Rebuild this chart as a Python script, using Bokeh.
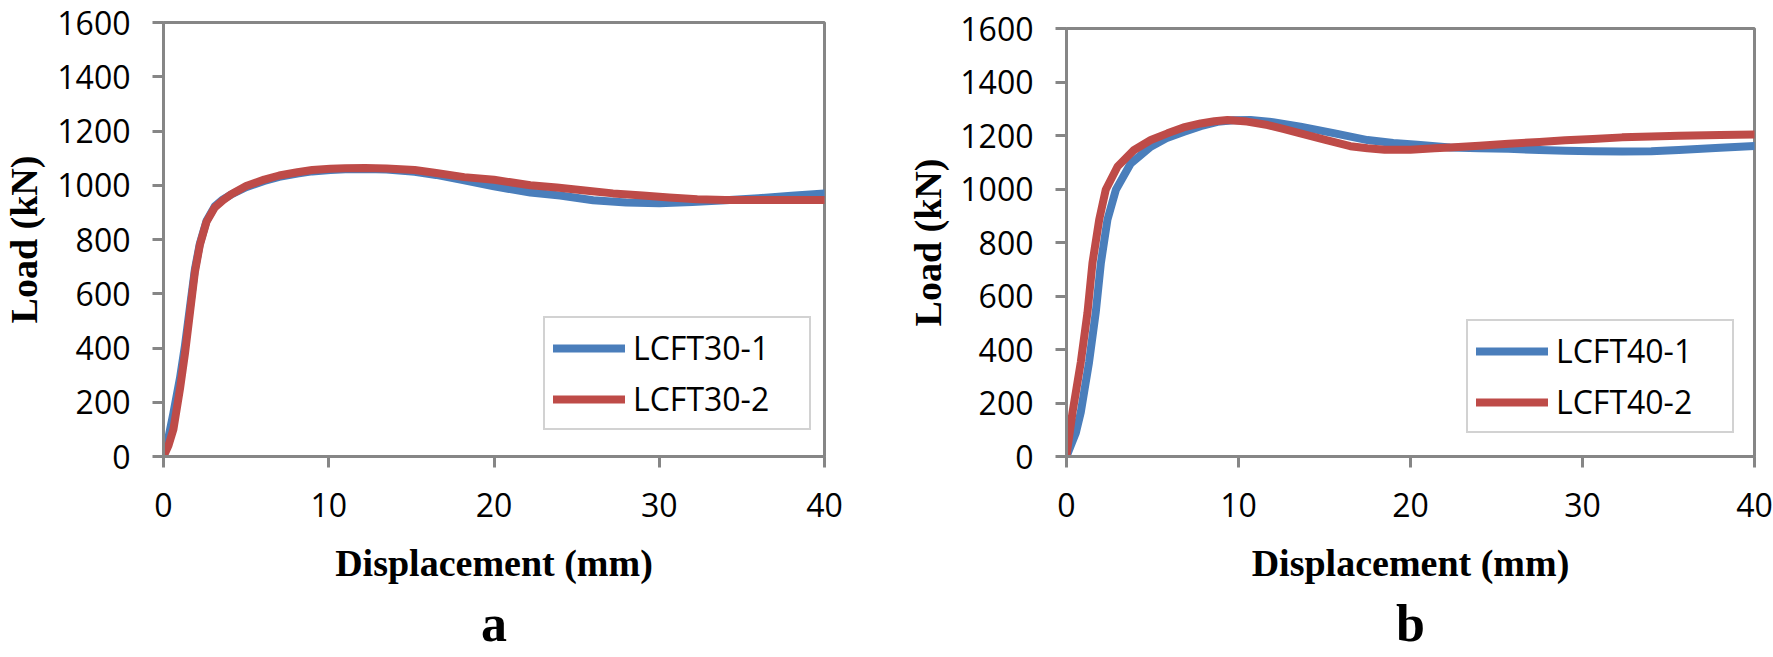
import numpy as np
from bokeh.plotting import figure
from bokeh.layouts import row, column
from bokeh.models import Legend, LegendItem, Title, FixedTicker, Range1d
from bokeh.embed import file_html
from bokeh.resources import INLINE

# ---------------- data ----------------
x_ticks = [0, 10, 20, 30, 40]
y_ticks = [0, 200, 400, 600, 800, 1000, 1200, 1400, 1600]

# Panel a
a1_x = [0, 0.3, 0.6, 1.0, 1.3, 1.6, 1.9, 2.2, 2.6, 3.1, 3.6, 4.1, 5.0, 6.1, 7.0, 8.1, 9.0, 10.1, 11.0, 12.2,
        13.5, 15.2, 16.5, 18.2, 20.0, 22.2, 24.0, 26.0, 28.0, 30.0, 32.0, 34.0, 36.0, 38.0, 40.0]
a1_y = [0, 70, 160, 290, 410, 550, 690, 785, 868, 922, 948, 966, 993, 1016, 1031, 1043, 1051, 1056, 1059, 1060,
        1058, 1050, 1038, 1018, 996, 973, 962, 945, 936, 934, 938, 945, 952, 961, 970]
a2_x = [0, 0.3, 0.6, 1.0, 1.3, 1.6, 1.9, 2.2, 2.6, 3.1, 3.6, 4.1, 5.0, 6.1, 7.0, 8.1, 9.0, 10.1, 11.0, 12.2,
        13.5, 15.2, 16.5, 18.2, 20.0, 22.2, 23.8, 25.5, 27.2, 29.0, 30.6, 32.3, 34.0, 36.0, 38.0, 40.0]
a2_y = [0, 40, 100, 250, 380, 530, 680, 780, 865, 918, 945, 967, 997, 1021, 1036, 1048, 1056, 1061, 1063, 1064,
        1062, 1056, 1045, 1030, 1020, 1000, 992, 981, 970, 962, 955, 948, 946, 946, 946, 946]

# Panel b
b1_x = [0, 0.25, 0.55, 0.83, 1.31, 1.7, 2.0, 2.38, 2.87, 3.74, 4.9, 5.8, 6.84, 7.8, 8.78, 9.7, 10.7, 12.0,
        13.6, 15.6, 17.5, 19.0, 20.4, 22.3, 24.0, 25.7, 27.5, 29.0, 30.6, 32.3, 34.0, 35.6, 38.0, 40.0]
b1_y = [0, 41, 90, 165, 352, 538, 724, 885, 997, 1096, 1158, 1190, 1214, 1235, 1251, 1257, 1258, 1250,
        1233, 1208, 1183, 1172, 1165, 1155, 1152, 1150, 1146, 1143, 1141, 1140, 1141, 1146, 1154, 1161]
b2_x = [0, 0.35, 0.83, 1.22, 1.51, 1.9, 2.28, 2.97, 3.93, 4.9, 5.87, 6.8, 7.8, 8.6, 9.36, 10.5, 11.7, 12.6,
        13.6, 15.0, 16.5, 17.5, 18.5, 20.0, 21.4, 22.3, 24.0, 25.7, 27.5, 29.0, 30.6, 32.3, 34.0, 35.6, 38.0, 40.0]
b2_y = [4, 165, 352, 538, 724, 885, 997, 1084, 1146, 1183, 1208, 1230, 1245, 1253, 1258, 1252, 1239, 1225,
        1208, 1185, 1160, 1152, 1147, 1147, 1152, 1155, 1162, 1169, 1176, 1182, 1187, 1193, 1196, 1199, 1202, 1204]

BLUE = "#4a7ebb"
RED = "#be4b48"
GREY = "#868686"
TICK_FONT = "Open Sans"
SERIF = "Liberation Serif"
HEIGHT = 657


def make_panel(width, mb_left, mb_right, mb_top, mb_bottom, s1, s2, names, letter,
               legend_loc, ylab_standoff):
    p = figure(width=width, height=HEIGHT, x_range=Range1d(0, 40), y_range=Range1d(0, 1600),
               output_backend="svg", toolbar_location=None,
               min_border_left=mb_left, min_border_right=mb_right,
               min_border_top=mb_top, min_border_bottom=mb_bottom)
    p.xgrid.visible = False
    p.ygrid.visible = False
    p.outline_line_color = GREY
    p.outline_line_width = 3
    p.background_fill_color = "white"
    p.border_fill_color = "white"

    for ax in (p.xaxis[0], p.yaxis[0]):
        ax.axis_line_color = GREY
        ax.axis_line_width = 3
        ax.major_tick_line_color = GREY
        ax.major_tick_line_width = 3
        ax.major_tick_out = 11
        ax.major_tick_in = 0
        ax.minor_tick_line_color = None
        ax.major_label_text_font = TICK_FONT
        ax.major_label_text_font_size = "32px"
        ax.major_label_text_color = "black"
        ax.axis_label_text_font = SERIF
        ax.axis_label_text_font_style = "bold"
        ax.axis_label_text_font_size = "38px"
        ax.axis_label_text_color = "black"
    p.xaxis.ticker = FixedTicker(ticks=x_ticks)
    p.yaxis.ticker = FixedTicker(ticks=y_ticks)
    p.xaxis.major_label_standoff = 25
    p.yaxis.major_label_standoff = 22

    p.xaxis.axis_label = "Displacement (mm)"
    p.xaxis.axis_label_standoff = 22
    p.yaxis.axis_label = "Load (kN)"
    p.yaxis.axis_label_standoff = ylab_standoff

    r1 = p.line(s1[0], s1[1], line_color=BLUE, line_width=8, line_cap="round", line_join="round")
    r2 = p.line(s2[0], s2[1], line_color=RED, line_width=8, line_cap="round", line_join="round")

    legend = Legend(items=[LegendItem(label=names[0], renderers=[r1]),
                           LegendItem(label=names[1], renderers=[r2])],
                    location=legend_loc, margin=0)
    legend.label_text_font = TICK_FONT
    legend.label_text_font_size = "32px"
    legend.label_text_color = "black"
    legend.glyph_width = 72
    legend.glyph_height = 38
    legend.label_height = 38
    legend.label_width = 168
    legend.spacing = 8
    legend.padding = 8
    legend.label_standoff = 8
    legend.border_line_color = "#a6a6a6"
    legend.border_line_width = 2.5
    legend.background_fill_color = "white"
    legend.background_fill_alpha = 1
    p.add_layout(legend)

    p.add_layout(Title(text=letter, align="center", text_font=SERIF, text_font_style="bold",
                       text_font_size="52px", text_color="black", standoff=12), "below")
    return p


pa = make_panel(880, 162, 56, 22, HEIGHT - 459, (a1_x, a1_y), (a2_x, a2_y), ["LCFT30-1", "LCFT30-2"], "a",
                (380, 26), 9)
pb = make_panel(893, 186, 19, 28, HEIGHT - 458, (b1_x, b1_y), (b2_x, b2_y), ["LCFT40-1", "LCFT40-2"], "b",
                (400, 23), 8)

layout = row(column(pa), column(pb))
open("out.html", "w").write(file_html(layout, INLINE))
